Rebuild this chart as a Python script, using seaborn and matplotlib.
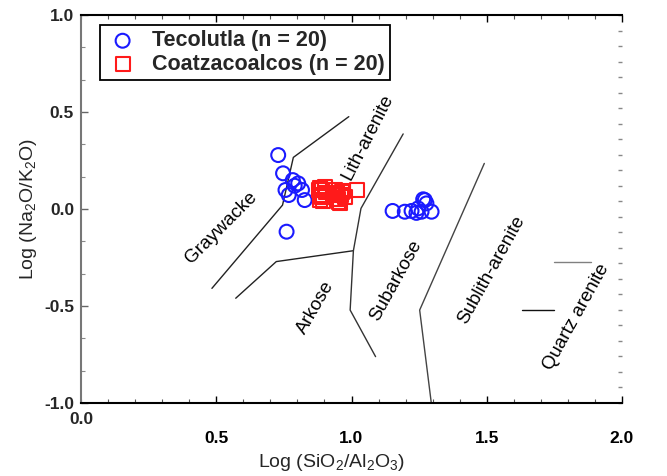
import numpy as np
import pandas as pd
import matplotlib
matplotlib.use("Agg")
import matplotlib.pyplot as plt
import matplotlib.transforms as mtrans
from matplotlib.ticker import MultipleLocator, FixedLocator
import seaborn as sns

# ---------------- data ----------------
teco_x = [0.729, 0.747, 0.783, 0.803, 0.756, 0.768, 0.817, 0.827, 0.760, 0.790,
          1.152, 1.197, 1.222, 1.246, 1.271, 1.277, 1.296, 1.240, 1.259, 1.265]
teco_y = [0.278, 0.184, 0.149, 0.132, 0.098, 0.072, 0.098, 0.046, -0.117, 0.120,
          -0.010, -0.014, -0.010, 0.003, 0.046, 0.029, -0.014, -0.020, -0.014, 0.050]

coat_x = [0.879, 0.885, 0.891, 0.903, 0.885, 0.890, 0.946, 0.952, 0.964, 0.977,
          1.020, 0.940, 0.958, 0.905, 0.930, 0.950, 0.885, 0.970, 0.895, 0.960]
coat_y = [0.098, 0.046, 0.098, 0.115, 0.070, 0.060, 0.081, 0.038, 0.089, 0.064,
          0.098, 0.100, 0.030, 0.085, 0.075, 0.050, 0.110, 0.095, 0.040, 0.070]

series_names = ["Tecolutla (n = 20)", "Coatzacoalcos (n = 20)"]

# field boundaries (x, y)
bound_a_x = [0.99, 0.785, 0.745, 0.484]
bound_a_y = [0.476, 0.266, 0.02, -0.409]
bound_b_x = [0.572, 0.722, 1.007]
bound_b_y = [-0.460, -0.271, -0.215]
bound_c_x = [1.191, 1.035, 1.007, 0.995, 1.089]
bound_c_y = [0.387, 0.003, -0.215, -0.521, -0.761]
bound_d_x = [1.491, 1.252, 1.295]
bound_d_y = [0.235, -0.521, -1.0]
bound_e_x = [1.749, 1.887]
bound_e_y = [-0.271, -0.271]
bound_f_x = [1.630, 1.749]
bound_f_y = [-0.522, -0.522]

field_names = ["Graywacke", "Lith-arenite", "Arkose", "Subarkose", "Sublith-arenite", "Quartz arenite"]
field_x = [0.519, 1.062, 0.869, 1.165, 1.518, 1.831]
field_y = [-0.098, 0.372, -0.507, -0.371, -0.314, -0.555]
field_rot = [45, 63, 60, 61, 61, 61]

xticks = [0.5, 1.0, 1.5, 2.0]
xtick_labels = ["0.5", "1.0", "1.5", "2.0"]
yticks = [-1.0, -0.5, 0.0, 0.5, 1.0]
ytick_labels = ["-1.0", "-0.5", "0.0", "0.5", "1.0"]

# ---------------- style ----------------
sns.set_theme(style="white")
plt.rcParams["font.family"] = ["Liberation Sans", "DejaVu Sans"]
plt.rcParams["mathtext.fontset"] = "custom"
plt.rcParams["mathtext.rm"] = "Liberation Sans"
plt.rcParams["mathtext.it"] = "Liberation Sans:italic"
plt.rcParams["mathtext.bf"] = "Liberation Sans:bold"

fig = plt.figure(figsize=(6.67, 4.76), dpi=100)
ax = fig.add_axes([81 / 667, 1 - 403 / 476, 541 / 667, 388 / 476])

df_t = pd.DataFrame({"x": teco_x, "y": teco_y})
df_c = pd.DataFrame({"x": coat_x, "y": coat_y})

for bx, by, col in [(bound_a_x, bound_a_y, "#222222"), (bound_b_x, bound_b_y, "#222222"),
                    (bound_c_x, bound_c_y, "#333333"), (bound_d_x, bound_d_y, "#444444"),
                    (bound_e_x, bound_e_y, "#808080"), (bound_f_x, bound_f_y, "#111111")]:
    ax.plot(bx, by, color=col, lw=1.0, zorder=1)

sns.scatterplot(data=df_t, x="x", y="y", ax=ax, marker="o", s=100,
                facecolor="none", edgecolor="#1a1aff", linewidth=1.5,
                label=series_names[0], zorder=3)
sns.scatterplot(data=df_c, x="x", y="y", ax=ax, marker="s", s=100,
                facecolor="none", edgecolor="#ff1a1a", linewidth=1.5,
                label=series_names[1], zorder=3)

for name, fx, fy, r in zip(field_names, field_x, field_y, field_rot):
    ax.text(fx, fy, name, rotation=r, ha="center", va="center",
            fontsize=13.5, color="black", rotation_mode="anchor")

ax.set_xlim(0, 2.0)
ax.set_ylim(-1.0, 1.0)

ax.set_xticks(xticks)
ax.set_xticklabels(xtick_labels, fontsize=12.5, fontweight="bold")
ax.set_yticks(yticks)
ax.set_yticklabels(ytick_labels, fontsize=12.5, fontweight="bold")
ax.xaxis.set_minor_locator(MultipleLocator(0.1))
ax.yaxis.set_minor_locator(MultipleLocator(0.5 / 3))
ax.tick_params(axis="x", which="both", direction="in", top=True, bottom=True,
               pad=20, colors="black")
ax.tick_params(axis="x", which="major", length=5, width=1.0)
ax.tick_params(axis="x", which="minor", length=3, width=0.8, color="#555555")
ax.tick_params(axis="y", which="both", direction="in", left=True, right=False, pad=5)
ax.tick_params(axis="y", which="major", length=5, width=1.0, color="#666666")
ax.tick_params(axis="y", which="minor", length=3, width=0.8, color="#888888")

# "0.0" x label sits higher than the other x labels
ax.text(0.0, 0.0, "0.0", transform=mtrans.blended_transform_factory(ax.transData, ax.transAxes)
        + mtrans.ScaledTranslation(0, -16 / 100, fig.dpi_scale_trans),
        ha="center", va="center", fontsize=12.5, fontweight="bold")

# right side: tick marks only
sec = ax.secondary_yaxis("right")
sec.yaxis.set_major_locator(FixedLocator(np.arange(-1.0, 1.0001, 0.08)))
sec.tick_params(direction="in", length=3, width=1.0, color="#888888", labelright=False)
sec.spines["right"].set_visible(False)

for side in ["bottom", "top"]:
    ax.spines[side].set_color("black")
    ax.spines[side].set_linewidth(1.5)
ax.spines["left"].set_color("#777777")
ax.spines["left"].set_linewidth(1.5)
ax.spines["right"].set_visible(False)

ax.set_xlabel("Log (SiO$_2$/Al$_2$O$_3$)", fontsize=14)
ax.set_ylabel("Log (Na$_2$O/K$_2$O)", fontsize=14)
ax.xaxis.set_label_coords((331 - 81) / 541, -49 / 388)
ax.yaxis.set_label_coords(-(81 - 39) / 541, 0.5)

leg = ax.legend(loc="upper left", bbox_to_anchor=(100 / 667, 1 - 25 / 476),
                bbox_transform=fig.transFigure, borderaxespad=0, frameon=True,
                fancybox=False, framealpha=1, edgecolor="black",
                prop={"size": 15.5, "weight": "bold"}, handletextpad=0.55,
                handlelength=1.6, labelspacing=0.1, borderpad=0.25, markerscale=1.0)
leg.get_frame().set_linewidth(1.3)

fig.savefig("out.png", dpi=100)
